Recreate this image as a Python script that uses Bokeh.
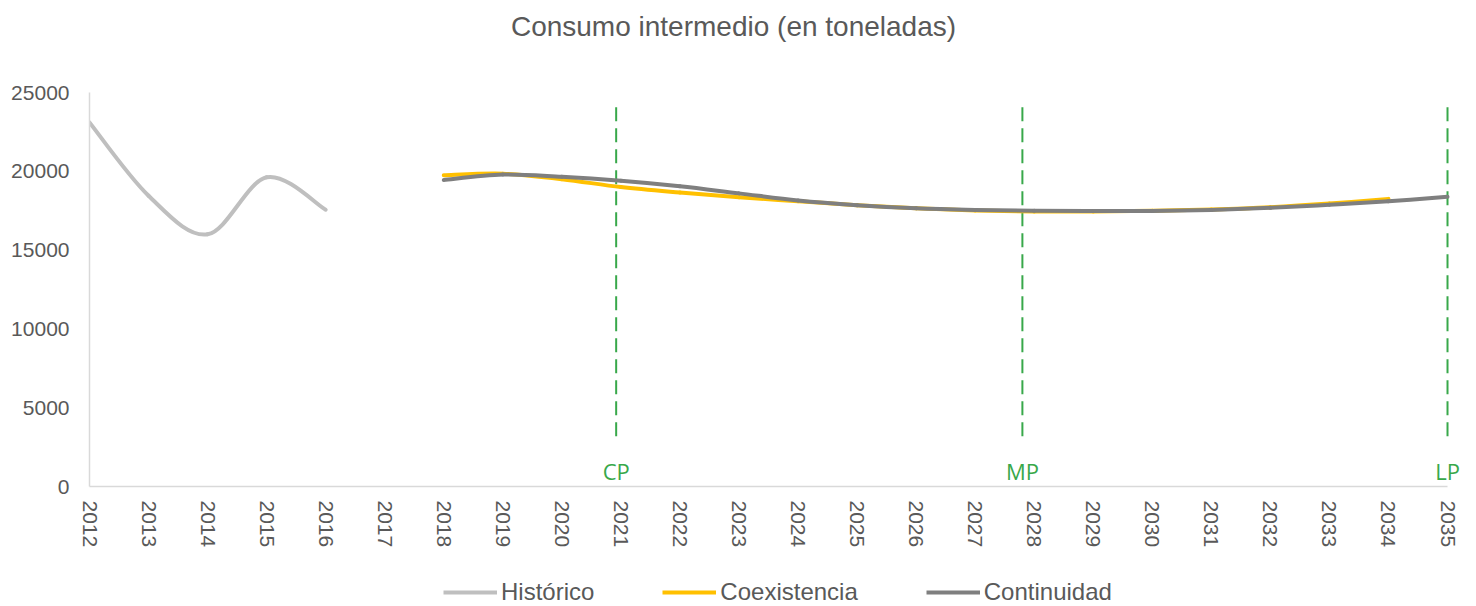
import numpy as np
from bokeh.plotting import figure
from bokeh.layouts import column
from bokeh.models import Range1d, FixedTicker, Legend, LegendItem
from bokeh.core.properties import value
from bokeh.embed import file_html
from bokeh.resources import INLINE

# ---- data ----
years_hist = [2012, 2013, 2014, 2015, 2016]
historico = [23100, 18450, 16000, 19620, 17560]

years_coex = list(range(2018, 2035))
coexistencia = [19750, 19850, 19500, 19000, 18650, 18350, 18100, 17850, 17650,
                17520, 17450, 17450, 17500, 17580, 17720, 17950, 18250]

years_cont = list(range(2018, 2036))
continuidad = [19450, 19800, 19650, 19400, 19050, 18600, 18150, 17850, 17650,
               17550, 17500, 17480, 17480, 17550, 17680, 17880, 18100, 18380]

horizon_years = [2020.92, 2027.8, 2035]
horizon_labels = ["CP", "MP", "LP"]
tick_years = list(range(2012, 2036))
y_ticks = [0, 5000, 10000, 15000, 20000, 25000]
series_names = ["Histórico", "Coexistencia", "Continuidad"]
series_colors = ["#bfbfbf", "#ffc000", "#7f7f7f"]
title_text = "Consumo intermedio (en toneladas)"

TXT = "#595959"
GREEN = "#38a84a"
W = 1468
H_TITLE, H_MAIN, H_LEG = 80, 494, 32
FRAME_L, FRAME_R = 89, 1460


def smooth_segments(xs, ys, t=1.0 / 6.0):
    n = len(xs)
    out = dict(x0=[], y0=[], x1=[], y1=[], cx0=[], cy0=[], cx1=[], cy1=[])
    for i in range(n - 1):
        ip = i - 1 if i > 0 else i
        inn = i + 2 if i + 2 < n else i + 1
        out["x0"].append(xs[i]); out["y0"].append(ys[i])
        out["x1"].append(xs[i + 1]); out["y1"].append(ys[i + 1])
        out["cx0"].append(xs[i] + (xs[i + 1] - xs[ip]) * t)
        out["cy0"].append(ys[i] + (ys[i + 1] - ys[ip]) * t)
        out["cx1"].append(xs[i + 1] - (xs[inn] - xs[i]) * t)
        out["cy1"].append(ys[i + 1] - (ys[inn] - ys[i]) * t)
    return out


def blank_fig(h, xr):
    f = figure(width=W, height=h, output_backend="svg", toolbar_location=None,
               x_range=xr, y_range=Range1d(0, h),
               x_axis_type=None, y_axis_type=None,
               min_border_left=FRAME_L, min_border_right=W - FRAME_R,
               min_border_top=0, min_border_bottom=0)
    f.outline_line_color = None
    f.xgrid.visible = False
    f.ygrid.visible = False
    f.background_fill_color = None
    f.border_fill_color = "white"
    return f


# ---- title strip ----
pt = blank_fig(H_TITLE, Range1d(FRAME_L, FRAME_R))
pt.text(x=[733], y=[54], text=[title_text], text_color=TXT,
        text_font=value("Liberation Sans"), text_font_size="28px",
        text_align="center", text_baseline="alphabetic")

# ---- main chart ----
p = figure(width=W, height=H_MAIN, output_backend="svg", toolbar_location=None,
           x_range=Range1d(2012, 2035.22), y_range=Range1d(0, 25000),
           min_border_left=FRAME_L, min_border_right=W - FRAME_R,
           min_border_top=12, min_border_bottom=88)
p.outline_line_color = None
p.xgrid.visible = False
p.ygrid.visible = False
p.background_fill_color = None
p.border_fill_color = "white"

for ax in (p.xaxis[0], p.yaxis[0]):
    ax.axis_line_color = "#d9d9d9"
    ax.axis_line_width = 1.5
    ax.major_tick_line_color = None
    ax.minor_tick_line_color = None
    ax.major_tick_out = 0
    ax.major_tick_in = 0
    ax.minor_tick_out = 0
    ax.minor_tick_in = 0
    ax.major_label_text_color = TXT
    ax.major_label_text_font = "Liberation Sans"
    ax.major_label_text_font_size = "21px"

p.xaxis.ticker = FixedTicker(ticks=tick_years)
p.xaxis.bounds = (2012, 2035)
p.xaxis.major_label_orientation = "vertical"
p.xaxis.major_label_standoff = 14
p.yaxis.ticker = FixedTicker(ticks=y_ticks)
p.yaxis.major_label_standoff = 20

p.segment(x0=horizon_years, x1=horizon_years, y0=[24070] * 3, y1=[3000] * 3,
          line_color=GREEN, line_width=2, line_dash="14 7")
p.text(x=horizon_years, y=[977] * 3, text=horizon_labels, text_color=GREEN,
       text_font=value("Open Sans"), text_font_size="22px",
       text_align="center", text_baseline="alphabetic")

for xs, ys, col in zip([years_hist, years_coex, years_cont],
                       [historico, coexistencia, continuidad], series_colors):
    seg = smooth_segments(xs, ys)
    p.bezier(source=seg, x0="x0", y0="y0", x1="x1", y1="y1",
             cx0="cx0", cy0="cy0", cx1="cx1", cy1="cy1",
             line_color=col, line_width=4, line_cap="round")

# ---- legend strip ----
pl = blank_fig(H_LEG, Range1d(FRAME_L, FRAME_R))
items = []
for name, col in zip(series_names, series_colors):
    r = pl.line(x=[0, 10], y=[-20, -20], line_color=col, line_width=4)
    items.append(LegendItem(label=name, renderers=[r]))
legend = Legend(items=items, location=(443 - FRAME_L, 0), orientation="horizontal",
                glyph_width=54, glyph_height=20, label_standoff=4, spacing=68,
                padding=0, margin=0, border_line_color=None,
                background_fill_alpha=0,
                label_text_font="Liberation Sans", label_text_font_size="24px",
                label_text_color=TXT)
pl.add_layout(legend)

layout = column(pt, p, pl, spacing=0)
open("out.html", "w").write(file_html(layout, INLINE))
